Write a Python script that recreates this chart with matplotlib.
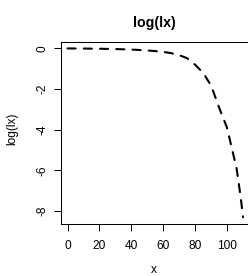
import matplotlib
matplotlib.use("Agg")
import matplotlib.pyplot as plt

plt.rcParams['font.family'] = ['Liberation Sans', 'DejaVu Sans']
plt.rcParams['axes.unicode_minus'] = False

# values
ages = [0, 10, 20, 30, 40, 45, 50, 55, 60, 65, 70, 75, 80, 85, 90, 95,
        100, 103, 106, 108, 109, 110]
log_lx = [0.0, -0.005, -0.015, -0.03, -0.055, -0.075, -0.1, -0.13, -0.17,
          -0.23, -0.33, -0.48, -0.8, -1.2, -1.82, -2.9, -3.9, -4.9, -5.9,
          -7.0, -7.6, -8.3]
x_ticks = [0, 20, 40, 60, 80, 100]
y_ticks = [0, -2, -4, -6, -8]

W, H = 248, 276
fig = plt.figure(figsize=(W / 100, H / 100), dpi=100)
ax = fig.add_axes([60.5 / W, (H - 224) / H, (250 - 60.5) / W, (224 - 41.7) / H])

ax.plot(ages, log_lx, color='black', lw=1.5, linestyle=(0, (3.9, 3.9)),
        dash_capstyle='round')
ax.margins(0.04)

ax.set_xticks(x_ticks)
ax.set_yticks(y_ticks)
ax.set_yticklabels([str(v) for v in y_ticks], rotation=90, va='center')
ax.tick_params(direction='out', length=5, width=0.75, labelsize=8.6,
               colors='black')
ax.tick_params(axis='x', pad=6.5)
ax.tick_params(axis='y', pad=3.5)
for s in ax.spines.values():
    s.set_linewidth(0.75)
    s.set_color('black')
# the right edge of the box falls just outside the picture
ax.spines['right'].set_visible(False)

fig.text(154.5 / W, 1 - 23 / H, 'log(lx)', ha='center', va='center',
         fontsize=10.3, fontweight='bold')
fig.text(154 / W, 1 - 270 / H, 'x', ha='center', va='center', fontsize=8.6)
fig.text(12 / W, 1 - 129 / H, 'log(lx)', ha='center', va='center',
         fontsize=8.6, rotation=90)

fig.savefig('out.png', dpi=100)
